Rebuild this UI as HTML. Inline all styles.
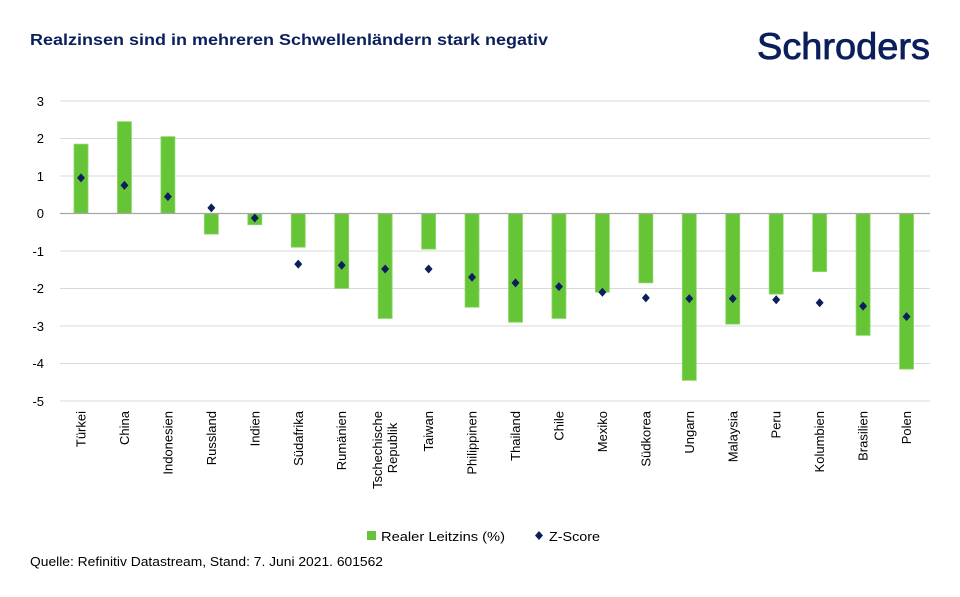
<!DOCTYPE html>
<html><head><meta charset="utf-8"><style>
body{margin:0;background:#fff;font-family:"Liberation Sans",sans-serif}
</style></head><body>
<svg width="960" height="592" xmlns="http://www.w3.org/2000/svg" font-family="Liberation Sans, sans-serif">
<text x="30" y="45" font-size="16" font-weight="bold" fill="#0b1f5c" textLength="518" lengthAdjust="spacingAndGlyphs">Realzinsen sind in mehreren Schwellenländern stark negativ</text>
<text x="757" y="59" font-size="37" fill="#0b1f5c" stroke="#0b1f5c" stroke-width="0.8" textLength="173" lengthAdjust="spacingAndGlyphs">Schroders</text>
<g stroke="#d9d9d9" stroke-width="1">
<line x1="60" x2="930" y1="101" y2="101"/><line x1="60" x2="930" y1="138.5" y2="138.5"/>
<line x1="60" x2="930" y1="176" y2="176"/><line x1="60" x2="930" y1="251" y2="251"/>
<line x1="60" x2="930" y1="288.5" y2="288.5"/><line x1="60" x2="930" y1="326" y2="326"/>
<line x1="60" x2="930" y1="363.5" y2="363.5"/><line x1="60" x2="930" y1="401" y2="401"/>
</g>
<g font-size="13" fill="#000" text-anchor="end">
<text x="44" y="106">3</text><text x="44" y="143">2</text><text x="44" y="181">1</text><text x="44" y="218">0</text>
<text x="44" y="256">-1</text><text x="44" y="293">-2</text><text x="44" y="331">-3</text><text x="44" y="368">-4</text><text x="44" y="406">-5</text>
</g>
<g id="bars"></g>
<line x1="60" x2="930" y1="213.5" y2="213.5" stroke="#a6a6a6" stroke-width="1.2"/>
<g id="pts"></g>
<g id="labs" font-size="13" fill="#000"></g>
<rect x="367" y="531" width="9" height="9" fill="#66c536"/>
<text x="381" y="541" font-size="13" textLength="124" lengthAdjust="spacingAndGlyphs">Realer Leitzins (%)</text>
<path d="M539 531 l4 4.5 l-4 4.5 l-4 -4.5z" fill="#0b1f5c"/>
<text x="549" y="541" font-size="13" textLength="51" lengthAdjust="spacingAndGlyphs">Z-Score</text>
<text x="30" y="566" font-size="12.5" textLength="353" lengthAdjust="spacingAndGlyphs">Quelle: Refinitiv Datastream, Stand: 7. Juni 2021. 601562</text>
</svg>
<script>
const names=["Türkei","China","Indonesien","Russland","Indien","Südafrika","Rumänien","Tschechische|Republik","Taiwan","Philippinen","Thailand","Chile","Mexiko","Südkorea","Ungarn","Malaysia","Peru","Kolumbien","Brasilien","Polen"];
const v=[1.85,2.45,2.05,-0.55,-0.3,-0.9,-2.0,-2.8,-0.95,-2.5,-2.9,-2.8,-2.1,-1.85,-4.45,-2.95,-2.15,-1.55,-3.25,-4.15];
const z=[0.95,0.75,0.45,0.15,-0.12,-1.35,-1.38,-1.48,-1.48,-1.7,-1.85,-1.95,-2.1,-2.25,-2.27,-2.27,-2.3,-2.38,-2.47,-2.75];
const Y=d=>213.5-d*37.5;
let bh="",ph="",lh="";
names.forEach((n,i)=>{const cx=81+i*43.45;
const y0=Math.min(Y(0),Y(v[i])),h=Math.abs(Y(v[i])-Y(0));
bh+=`<rect x="${cx-7}" y="${y0}" width="14" height="${h}" fill="#66c536" stroke="#8fd86a" stroke-width="0.8"/>`;
const zy=Y(z[i]);ph+=`<path d="M${cx} ${zy-4.5} l4 4.5 l-4 4.5 l-4 -4.5z" fill="#0b1f5c"/>`;
const parts=n.split("|");
if(parts.length==1)lh+=`<text transform="translate(${cx+4.5},411) rotate(-90)" text-anchor="end">${n}</text>`;
else lh+=`<text transform="translate(${cx-3},411) rotate(-90)" text-anchor="end">${parts[0]}</text><text transform="translate(${cx+12},411) rotate(-90)" text-anchor="middle" x="-37">${parts[1]}</text>`;
});
document.getElementById("bars").innerHTML=bh;
document.getElementById("pts").innerHTML=ph;
document.getElementById("labs").innerHTML=lh;
</script>
</body></html>
